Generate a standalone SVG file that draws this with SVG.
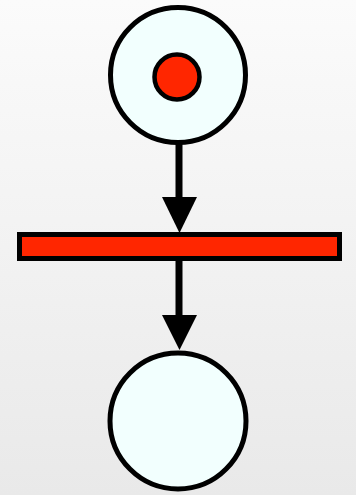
<svg xmlns="http://www.w3.org/2000/svg" width="356" height="495" viewBox="0 0 356 495">
<defs>
<linearGradient id="bg" x1="0" y1="0" x2="0" y2="1">
<stop offset="0" stop-color="#fbfbfb"/>
<stop offset="1" stop-color="#e9e9e9"/>
</linearGradient>
<style>
.place{fill:#f2fffe;stroke:#000;stroke-width:5}
.token{fill:#ff2600;stroke:#000;stroke-width:4.5}
.trans{fill:#ff2600;stroke:#000;stroke-width:5}
.arc{stroke:#000;stroke-width:7;fill:none}
.head{fill:#000}
</style>
</defs>
<rect x="0" y="0" width="356" height="495" fill="url(#bg)"/>
<g id="connectors">
<line class="arc" x1="179" y1="143" x2="179" y2="200"/>
<polygon class="head" points="162,197 197,197 179.5,233"/>
<line class="arc" x1="179" y1="258" x2="179" y2="318"/>
<polygon class="head" points="162,315 197,315 179.5,350"/>
</g>
<g id="place1">
<circle class="place" cx="178" cy="75" r="67.5"/>
<circle class="token" cx="177" cy="77" r="22.5"/>
</g>
<g id="transition">
<rect class="trans" x="19.5" y="234.5" width="320" height="24"/>
</g>
<g id="place2">
<circle class="place" cx="178" cy="421" r="68"/>
</g>
</svg>
